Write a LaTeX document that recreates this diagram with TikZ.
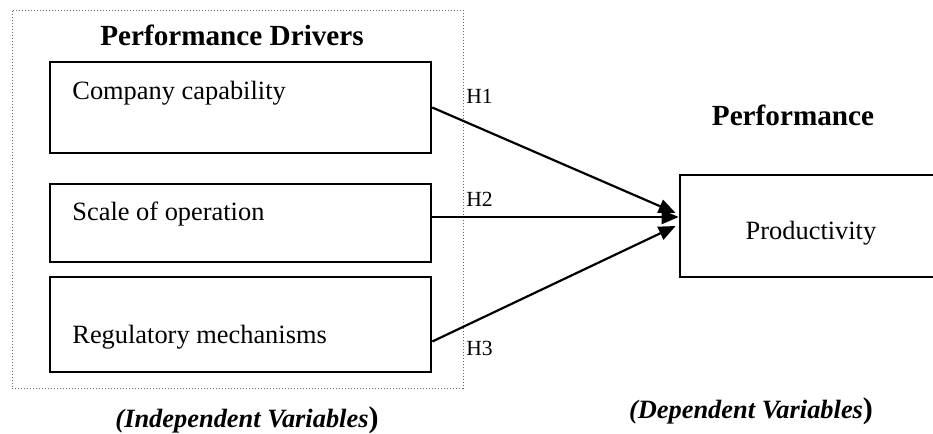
\documentclass[tikz,border=0pt]{standalone}
\usepackage{fontspec}
\setmainfont{Liberation Serif}
\usetikzlibrary{arrows.meta}
\begin{document}
\begin{tikzpicture}[x=0.5pt, y=-0.5pt,
  box/.style={draw, line width=1.3pt, rectangle, inner sep=0pt},
  frame/.style={draw=gray!80!black, densely dotted, line width=0.5pt, rectangle, inner sep=0pt},
  label/.style={inner sep=0pt, anchor=base west, font=\fontsize{13.2pt}{15pt}\selectfont},
  hyp/.style={inner sep=0pt, anchor=base west, font=\fontsize{10.8pt}{12pt}\selectfont},
  heading/.style={inner sep=0pt, anchor=base, font=\fontsize{14.6pt}{17pt}\selectfont\bfseries},
  caption/.style={inner sep=0pt, anchor=base, font=\fontsize{13.2pt}{16pt}\selectfont\bfseries},
  link/.style={line width=1.1pt, -{Triangle[length=8.5pt, width=7pt]}}]
\useasboundingbox (0,0) rectangle (933,434);

% grouping frame for the independent variables
\node[frame, minimum width=225.5pt, minimum height=189pt] (group) at (237.5,199) {};
\node[heading] (drivers) at (232,45) {Performance Drivers};

% driver boxes
\node[box, minimum width=190.5pt, minimum height=45.5pt] (b1) at (240.5,107.5) {};
\node[box, minimum width=190.5pt, minimum height=39pt] (b2) at (240.5,223) {};
\node[box, minimum width=190.5pt, minimum height=47.5pt] (b3) at (240.5,324.5) {};
\node[label] (t1) at (72,99) {Company capability};
\node[label] (t2) at (72,220) {Scale of operation};
\node[label] (t3) at (72,343) {Regulatory mechanisms};

% dependent variable
\node[heading] (perf) at (793,125) {Performance};
\node[box, minimum width=130pt, minimum height=51pt] (p) at (810,226) {};
\node[inner sep=0pt, anchor=base, font=\fontsize{13.2pt}{15pt}\selectfont] (tp) at (811,239) {Productivity};

% hypothesis labels
\node[hyp] (h1) at (466,103) {H1};
\node[hyp] (h2) at (466,206) {H2};
\node[hyp] (h3) at (466,355) {H3};

% hypothesised links
\draw[link] (b1.east) -- ([xshift=-1.5pt, yshift=6.5pt]p.west);
\draw[link] ([yshift=3pt]b2.east) -- ([yshift=4.5pt]p.west);
\draw[link] ([yshift=-8.5pt]b3.east) -- ([xshift=-1.5pt, yshift=0pt]p.west);

% captions
\node[caption] (ind) at (247,427) {\itshape(Independent Variables\upshape\fontsize{15pt}{16pt}\selectfont)};
\node[caption] (dep) at (751,418) {\itshape(Dependent Variables\upshape\fontsize{15pt}{16pt}\selectfont)};
\end{tikzpicture}
\end{document}
